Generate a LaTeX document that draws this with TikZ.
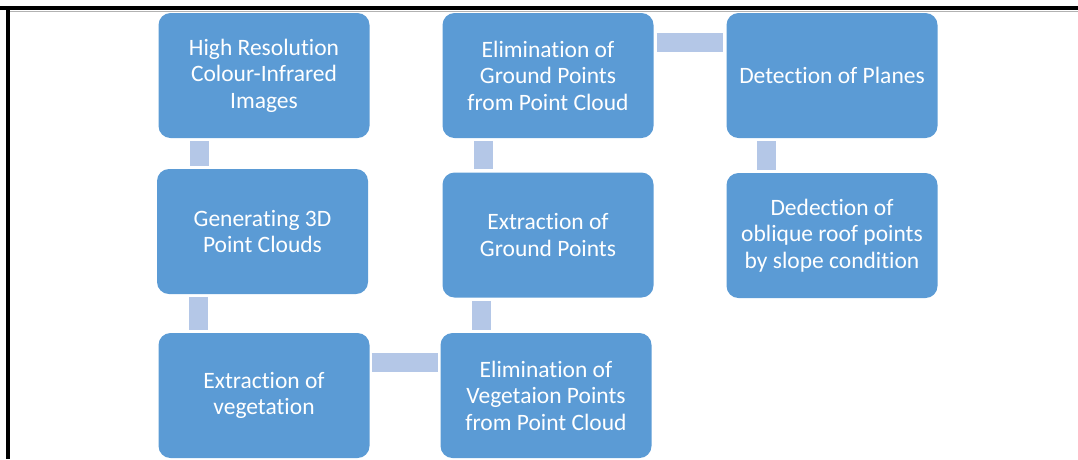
\documentclass[tikz,border=0pt]{standalone}
\usepackage{fontspec}
\setmainfont{Carlito}[Ligatures = NoCommon]
\definecolor{boxblue}{HTML}{5B9BD5}
\definecolor{linkblue}{HTML}{B4C7E7}

\begin{document}
\begin{tikzpicture}[x = 1pt, y = -1pt,
		stage/.style = {rectangle, rounded corners = 12pt, fill = boxblue, text = white, align = center, minimum width = 211pt, minimum height = 125pt, inner sep = 0pt, font = \fontsize{23.5}{26.5}\selectfont},
		link/.style = {draw = linkblue, line width = 19pt, shorten < = 3pt, shorten > = 3pt}]
		\useasboundingbox (0,0) rectangle (1078,459);
		\draw[line width = 4pt] (0,8) -- (1078,8);
		\draw[line width = 3.5pt] (8,8) -- (8,459);
		\draw[gray!60, line width = 1pt] (10,11) -- (1078,11);
		\node[stage] (images) at (264, 75.5) {High Resolution\\Colour-Infrared\\Images};
		\node[stage] (cloud) at (262.5, 231.5) {Generating 3D\\Point Clouds};
		\node[stage] (veg) at (264, 395.5) {Extraction of\\vegetation};
		\node[stage] (elimveg) at (546, 395.5) {Elimination of\\Vegetaion Points\\from Point Cloud};
		\node[stage] (ground) at (548, 235) {Extraction of\\Ground Points};
		\node[stage] (elimground) at (548, 75.5) {Elimination of\\Ground Points\\from Point Cloud};
		\node[stage] (planes) at (832, 75.5) {Detection of Planes};
		\node[stage] (roof) at (832, 235.5) {Dedection of\\oblique roof points\\by slope condition};
		\draw[link] ([xshift = 41.5pt]images.south west) -- ([xshift = 41.5pt]images.south west |- cloud.north);
		\draw[link] ([xshift = 41.5pt]cloud.south west) -- ([xshift = 41.5pt]cloud.south west |- veg.north);
		\draw[link, shorten < = 2pt, shorten > = 2pt] ([yshift = -29.5pt]veg.north east) -- ([yshift = -29.5pt]veg.north east -| elimveg.west);
		\draw[link] ([xshift = 41.5pt]elimveg.north west) -- ([xshift = 41.5pt]elimveg.north west |- ground.south);
		\draw[link] ([xshift = 41.5pt]ground.north west) -- ([xshift = 41.5pt]ground.north west |- elimground.south);
		\draw[link] ([yshift = -29.5pt]elimground.north east) -- ([yshift = -29.5pt]elimground.north east -| planes.west);
		\draw[link] ([xshift = 40.5pt]planes.south west) -- ([xshift = 40.5pt]planes.south west |- roof.north);
	\end{tikzpicture}
\end{document}
